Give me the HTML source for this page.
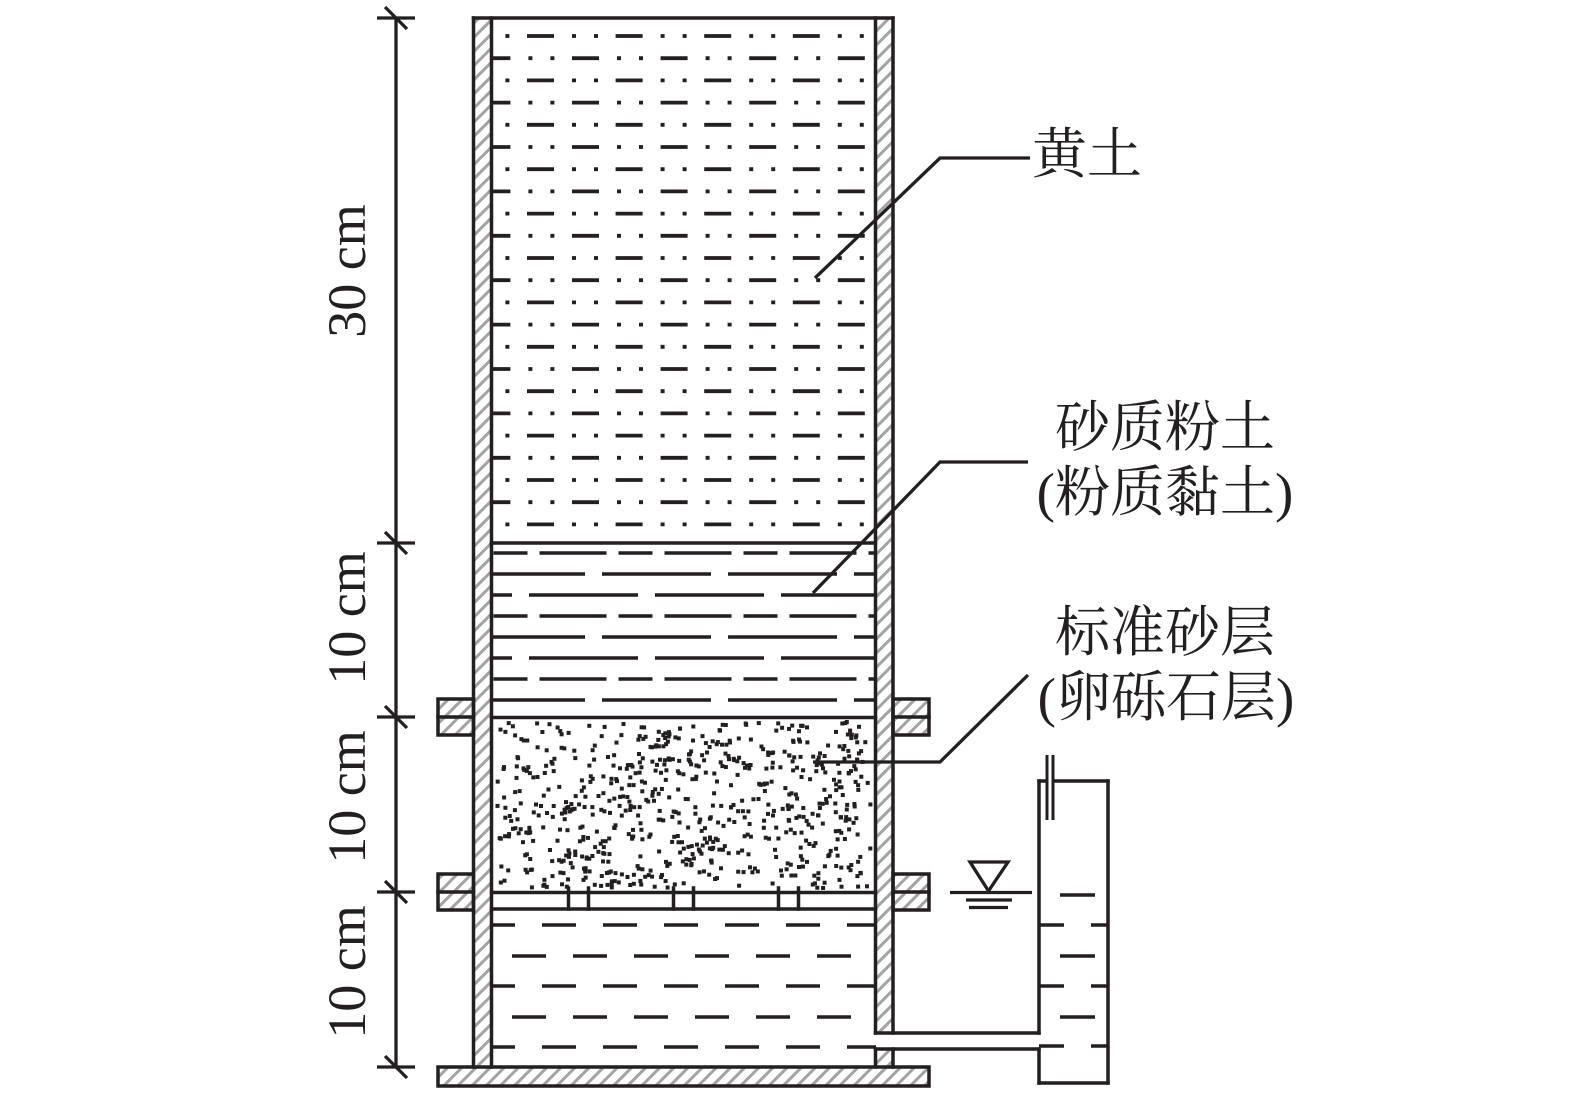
<!DOCTYPE html>
<html>
<head>
<meta charset="utf-8">
<style>
  html, body { margin: 0; padding: 0; background: #ffffff; }
  svg { display: block; }
  .t { font-family: "Liberation Serif", "Noto Serif CJK SC", serif; fill: #231f20; }
</style>
</head>
<body>
<svg id="root" xmlns="http://www.w3.org/2000/svg" width="1575" height="1094" viewBox="0 0 1575 1094">
  <defs>
    <pattern id="h" patternUnits="userSpaceOnUse" width="10" height="10" patternTransform="rotate(45)">
      <rect x="0" y="0" width="3" height="10" fill="#a3a3a3"/>
    </pattern>
  </defs>
  <rect x="0" y="0" width="1575" height="1094" fill="#ffffff"/>

  <!-- hatched fills -->
  <g fill="url(#h)">
    <rect x="473.5" y="18" width="18" height="1049"/>
    <rect x="875.5" y="18" width="17.5" height="1015"/>
    <rect x="875.5" y="1049" width="17.5" height="18"/>
    <rect x="438" y="699" width="35.5" height="36"/>
    <rect x="438" y="874" width="35.5" height="36"/>
    <rect x="893" y="699" width="36" height="36"/>
    <rect x="893" y="874" width="36" height="36"/>
    <rect x="438" y="1067" width="491" height="19"/>
  </g>

  <!-- loess pattern (黄土) -->
  <g stroke="#231f20" stroke-width="3.8" fill="none">
    <line x1="492" y1="36" x2="875" y2="36" stroke-dasharray="27 18 4 18 4 17.6" stroke-dashoffset="53.6"/>
    <line x1="492" y1="58.2" x2="875" y2="58.2" stroke-dasharray="27 18 4 18 4 17.6" stroke-dashoffset="8.6"/>
    <line x1="492" y1="80.4" x2="875" y2="80.4" stroke-dasharray="27 18 4 18 4 17.6" stroke-dashoffset="53.6"/>
    <line x1="492" y1="102.6" x2="875" y2="102.6" stroke-dasharray="27 18 4 18 4 17.6" stroke-dashoffset="8.6"/>
    <line x1="492" y1="124.8" x2="875" y2="124.8" stroke-dasharray="27 18 4 18 4 17.6" stroke-dashoffset="53.6"/>
    <line x1="492" y1="147" x2="875" y2="147" stroke-dasharray="27 18 4 18 4 17.6" stroke-dashoffset="8.6"/>
    <line x1="492" y1="169.2" x2="875" y2="169.2" stroke-dasharray="27 18 4 18 4 17.6" stroke-dashoffset="53.6"/>
    <line x1="492" y1="191.4" x2="875" y2="191.4" stroke-dasharray="27 18 4 18 4 17.6" stroke-dashoffset="8.6"/>
    <line x1="492" y1="213.6" x2="875" y2="213.6" stroke-dasharray="27 18 4 18 4 17.6" stroke-dashoffset="53.6"/>
    <line x1="492" y1="235.8" x2="875" y2="235.8" stroke-dasharray="27 18 4 18 4 17.6" stroke-dashoffset="8.6"/>
    <line x1="492" y1="258" x2="875" y2="258" stroke-dasharray="27 18 4 18 4 17.6" stroke-dashoffset="53.6"/>
    <line x1="492" y1="280.2" x2="875" y2="280.2" stroke-dasharray="27 18 4 18 4 17.6" stroke-dashoffset="8.6"/>
    <line x1="492" y1="302.4" x2="875" y2="302.4" stroke-dasharray="27 18 4 18 4 17.6" stroke-dashoffset="53.6"/>
    <line x1="492" y1="324.6" x2="875" y2="324.6" stroke-dasharray="27 18 4 18 4 17.6" stroke-dashoffset="8.6"/>
    <line x1="492" y1="346.8" x2="875" y2="346.8" stroke-dasharray="27 18 4 18 4 17.6" stroke-dashoffset="53.6"/>
    <line x1="492" y1="369" x2="875" y2="369" stroke-dasharray="27 18 4 18 4 17.6" stroke-dashoffset="8.6"/>
    <line x1="492" y1="391.2" x2="875" y2="391.2" stroke-dasharray="27 18 4 18 4 17.6" stroke-dashoffset="53.6"/>
    <line x1="492" y1="413.4" x2="875" y2="413.4" stroke-dasharray="27 18 4 18 4 17.6" stroke-dashoffset="8.6"/>
    <line x1="492" y1="435.6" x2="875" y2="435.6" stroke-dasharray="27 18 4 18 4 17.6" stroke-dashoffset="53.6"/>
    <line x1="492" y1="457.8" x2="875" y2="457.8" stroke-dasharray="27 18 4 18 4 17.6" stroke-dashoffset="8.6"/>
    <line x1="492" y1="480" x2="875" y2="480" stroke-dasharray="27 18 4 18 4 17.6" stroke-dashoffset="53.6"/>
    <line x1="492" y1="502.2" x2="875" y2="502.2" stroke-dasharray="27 18 4 18 4 17.6" stroke-dashoffset="8.6"/>
    <line x1="492" y1="524.4" x2="875" y2="524.4" stroke-dasharray="27 18 4 18 4 17.6" stroke-dashoffset="53.6"/>
  </g>

  <!-- silt layer pattern -->
  <g stroke="#231f20" stroke-width="3.5" fill="none">
    <line x1="493.5" y1="553" x2="875" y2="553" stroke-dasharray="34 12 67 12"/>
    <line x1="492" y1="574" x2="875" y2="574" stroke-dasharray="109 17" stroke-dashoffset="16"/>
    <line x1="492" y1="595" x2="875" y2="595" stroke-dasharray="109 17" stroke-dashoffset="89"/>
    <line x1="493.5" y1="616" x2="875" y2="616" stroke-dasharray="34 12 67 12"/>
    <line x1="492" y1="637" x2="875" y2="637" stroke-dasharray="109 17" stroke-dashoffset="16"/>
    <line x1="492" y1="658" x2="875" y2="658" stroke-dasharray="109 17" stroke-dashoffset="89"/>
    <line x1="493.5" y1="679" x2="875" y2="679" stroke-dasharray="34 12 67 12"/>
    <line x1="492" y1="700" x2="875" y2="700" stroke-dasharray="109 17" stroke-dashoffset="16"/>
  </g>

  <!-- gravel dots (generated) -->
  <g id="gv" fill="#231f20"></g>

  <!-- water in column -->
  <g stroke="#231f20" stroke-width="3.5" fill="none">
    <line x1="492" y1="925" x2="876" y2="925" stroke-dasharray="34 27" stroke-dashoffset="11"/>
    <line x1="512" y1="956" x2="851" y2="956" stroke-dasharray="34 27"/>
    <line x1="492" y1="986" x2="876" y2="986" stroke-dasharray="34 27" stroke-dashoffset="11"/>
    <line x1="512" y1="1017" x2="851" y2="1017" stroke-dasharray="34 27"/>
    <line x1="492" y1="1047" x2="876" y2="1047" stroke-dasharray="34 27" stroke-dashoffset="11"/>
  </g>

  <!-- structure outlines -->
  <g stroke="#231f20" stroke-width="3.5" fill="none" stroke-linecap="square">
    <line x1="473.5" y1="18" x2="893" y2="18"/>
    <line x1="473.5" y1="18" x2="473.5" y2="1067"/>
    <line x1="491.5" y1="18" x2="491.5" y2="1067"/>
    <line x1="875.5" y1="18" x2="875.5" y2="1033"/>
    <line x1="893" y1="18" x2="893" y2="1033"/>
    <line x1="875.5" y1="1049" x2="875.5" y2="1067"/>
    <line x1="893" y1="1049" x2="893" y2="1067"/>
    <line x1="491.5" y1="543" x2="875.5" y2="543"/>
    <line x1="491.5" y1="717.5" x2="875.5" y2="717.5"/>
    <line x1="491.5" y1="892.5" x2="875.5" y2="892.5"/>
    <line x1="491.5" y1="909" x2="875.5" y2="909"/>
    <line x1="568.5" y1="888" x2="568.5" y2="909"/>
    <line x1="588.5" y1="888" x2="588.5" y2="909"/>
    <line x1="673.5" y1="888" x2="673.5" y2="909"/>
    <line x1="693.5" y1="888" x2="693.5" y2="909"/>
    <line x1="778.5" y1="888" x2="778.5" y2="909"/>
    <line x1="798.5" y1="888" x2="798.5" y2="909"/>
    <rect x="438" y="699" width="35.5" height="36"/>
    <line x1="438" y1="717" x2="473.5" y2="717"/>
    <rect x="438" y="874" width="35.5" height="36"/>
    <line x1="438" y1="892" x2="473.5" y2="892"/>
    <rect x="893" y="699" width="36" height="36"/>
    <line x1="893" y1="717" x2="929" y2="717"/>
    <rect x="893" y="874" width="36" height="36"/>
    <line x1="893" y1="892" x2="929" y2="892"/>
    <rect x="438" y="1067" width="491" height="19"/>
    <line x1="875.5" y1="1033" x2="1039" y2="1033"/>
    <line x1="875.5" y1="1049" x2="1039" y2="1049"/>
    <line x1="1039" y1="781" x2="1039" y2="1033"/>
    <line x1="1039" y1="1049" x2="1039" y2="1083"/>
    <line x1="1108" y1="781" x2="1108" y2="1083"/>
    <line x1="1039" y1="1083" x2="1108" y2="1083"/>
    <line x1="1039" y1="781" x2="1045" y2="781"/>
    <line x1="1055" y1="781" x2="1108" y2="781"/>
  </g>
  <g stroke="#231f20" stroke-width="3" fill="none">
    <line x1="1047" y1="755" x2="1047" y2="820"/>
    <line x1="1053" y1="755" x2="1053" y2="820"/>
  </g>

  <!-- standpipe water -->
  <g stroke="#231f20" stroke-width="3.5" fill="none">
    <line x1="1060" y1="895" x2="1095" y2="895"/>
    <line x1="1039" y1="925" x2="1064" y2="925"/>
    <line x1="1091" y1="925" x2="1108" y2="925"/>
    <line x1="1060" y1="956" x2="1095" y2="956"/>
    <line x1="1039" y1="986" x2="1064" y2="986"/>
    <line x1="1091" y1="986" x2="1108" y2="986"/>
    <line x1="1060" y1="1017" x2="1095" y2="1017"/>
    <line x1="1039" y1="1046" x2="1064" y2="1046"/>
    <line x1="1091" y1="1046" x2="1108" y2="1046"/>
  </g>

  <!-- water level symbol -->
  <g stroke="#231f20" stroke-width="3.3" fill="none">
    <polygon points="970,862 1008,862 988.5,891"/>
    <line x1="950" y1="892.5" x2="1032" y2="892.5"/>
    <line x1="966" y1="900" x2="1012" y2="900"/>
    <line x1="969" y1="907.5" x2="1008" y2="907.5"/>
  </g>

  <!-- leaders -->
  <g stroke="#231f20" stroke-width="3.3" fill="none">
    <polyline points="815,278 940,158 1030,158"/>
    <polyline points="813,593 940,462 1028,462"/>
    <polyline points="813,762 940,762 1028,675"/>
  </g>

  <!-- dimension line -->
  <g stroke="#231f20" stroke-width="3.3" fill="none">
    <line x1="396" y1="18" x2="396" y2="1067"/>
    <line x1="377" y1="18" x2="415" y2="18"/>
    <line x1="385" y1="7" x2="407" y2="29"/>
    <line x1="377" y1="543" x2="415" y2="543"/>
    <line x1="385" y1="532" x2="407" y2="554"/>
    <line x1="377" y1="717" x2="415" y2="717"/>
    <line x1="385" y1="706" x2="407" y2="728"/>
    <line x1="377" y1="892" x2="415" y2="892"/>
    <line x1="385" y1="881" x2="407" y2="903"/>
    <line x1="377" y1="1067" x2="415" y2="1067"/>
    <line x1="385" y1="1056" x2="407" y2="1078"/>
  </g>

  <!-- dimension labels -->
  <text class="t" font-size="54" text-anchor="middle" transform="translate(365,271) rotate(-90)">30 cm</text>
  <text class="t" font-size="54" text-anchor="middle" transform="translate(365,618) rotate(-90)">10 cm</text>
  <text class="t" font-size="54" text-anchor="middle" transform="translate(365,797) rotate(-90)">10 cm</text>
  <text class="t" font-size="54" text-anchor="middle" transform="translate(365,972) rotate(-90)">10 cm</text>

  <!-- layer labels -->
  <text class="t" font-size="55" x="1032" y="173">黄土</text>
  <text class="t" font-size="55" x="1165" y="446" text-anchor="middle">砂质粉土</text>
  <text class="t" font-size="55" x="1165" y="511" text-anchor="middle">(粉质黏土)</text>
  <text class="t" font-size="55" x="1165" y="651" text-anchor="middle">标准砂层</text>
  <text class="t" font-size="55" x="1166" y="716" text-anchor="middle">(卵砾石层)</text>
</svg>
<script>
(function(){
  var s = 20240607;
  function r(){ s = (s * 16807) % 2147483647; return (s - 1) / 2147483646; }
  var g = document.getElementById('gv');
  var ns = 'http://www.w3.org/2000/svg';
  function dot(x, y, w, h){
    var e = document.createElementNS(ns, 'rect');
    e.setAttribute('x', x.toFixed(1));
    e.setAttribute('y', y.toFixed(1));
    e.setAttribute('width', w);
    e.setAttribute('height', h);
    g.appendChild(e);
  }
  for (var i = 0; i < 600; i++) {
    var x = 495 + r() * 374;
    var y = 721 + r() * 165;
    dot(x, y, 4, 4);
    if (r() < 0.18) {
      var dx = (r() < 0.5 ? -1 : 1) * (3 + r() * 3);
      var dy = (r() - 0.5) * 6;
      var nx = Math.min(Math.max(x + dx, 494), 870);
      var ny = Math.min(Math.max(y + dy, 720), 886);
      dot(nx, ny, 4, 4);
    }
  }
})();
</script>
</body>
</html>
